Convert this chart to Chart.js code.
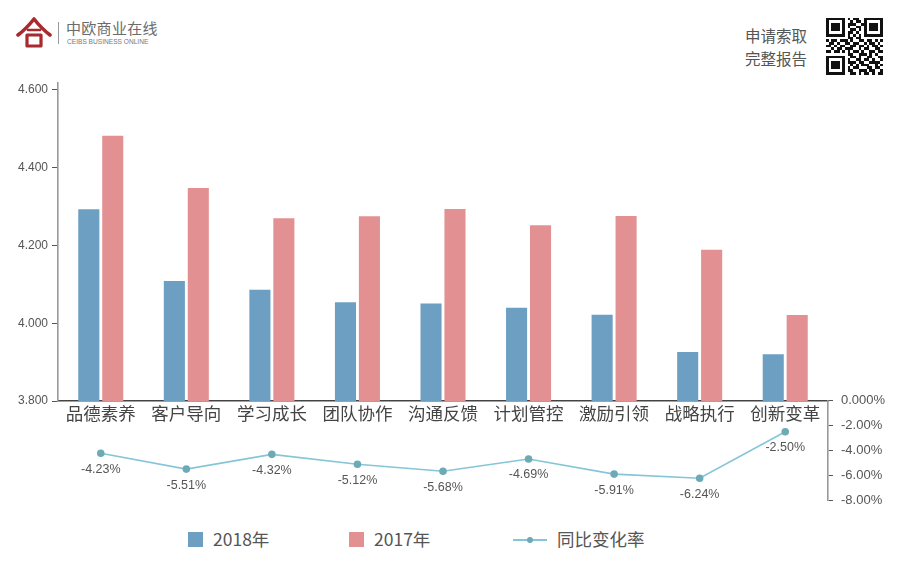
<!DOCTYPE html>
<html>
<head>
<meta charset="utf-8">
<script src="https://cdn.jsdelivr.net/npm/chart.js@4"></script>
<style>
  html, body { margin:0; padding:0; background:#fff; }
  body { width:901px; height:569px; position:relative; overflow:hidden; font-family:"Noto Sans CJK SC","Noto Sans",sans-serif; }
  canvas { position:absolute; left:0; }
  .abs { position:absolute; white-space:nowrap; }
</style>
</head>
<body>
<script>
const categories = ['品德素养','客户导向','学习成长','团队协作','沟通反馈','计划管控','激励引领','战略执行','创新变革'];
const series2018 = [4.293, 4.109, 4.086, 4.054, 4.051, 4.040, 4.022, 3.926, 3.920];
const series2017 = [4.482, 4.348, 4.270, 4.275, 4.294, 4.252, 4.276, 4.189, 4.021];
const changeRate = [-4.23, -5.51, -4.32, -5.12, -5.68, -4.69, -5.91, -6.24, -2.50];
const changeRateLabels = ['-4.23%','-5.51%','-4.32%','-5.12%','-5.68%','-4.69%','-5.91%','-6.24%','-2.50%'];
const seriesNames = ['2018年','2017年','同比变化率'];
const leftTickValues = [3.8, 4.0, 4.2, 4.4, 4.6];
const leftTickLabels = ['3.800','4.000','4.200','4.400','4.600'];
const rightTickValues = [0, -2, -4, -6, -8];
const rightTickLabels = ['0.000%','-2.00%','-4.00%','-6.00%','-8.00%'];
</script>

<!-- header logo -->
<svg class="abs" style="left:16px;top:16px" width="36" height="33" viewBox="0 0 36 33">
  <path d="M2 19 Q10 13 18 3 Q26 13 34 19" fill="none" stroke="#a8292e" stroke-width="3.6" stroke-linecap="round" stroke-linejoin="round"/>
  <path d="M12 14 L24 14" stroke="#a8292e" stroke-width="2.6" stroke-linecap="round"/>
  <path d="M11 19 L11 30 L25 30 L25 19 Z" fill="none" stroke="#a8292e" stroke-width="3.2" stroke-linejoin="round"/>
</svg>
<div class="abs" style="left:58px;top:22px;width:1px;height:22px;background:#999"></div>
<div class="abs" style="left:66px;top:19px;font-size:15px;line-height:18px;color:#6b6b6b;letter-spacing:0.3px">中欧商业在线</div>
<div class="abs" style="left:67px;top:38px;font-family:'Liberation Sans',sans-serif;font-size:6.6px;line-height:7px;color:#777">CEIBS BUSINESS ONLINE</div>

<div class="abs" style="left:745px;top:24px;font-size:15.5px;color:#555;line-height:23px">申请索取<br>完整报告</div>
<svg id="qr" class="abs" style="left:826px;top:17px" width="57" height="58" viewBox="0 0 21 21" shape-rendering="crispEdges"></svg>

<canvas id="top" width="901" height="430" style="top:0;width:901px;height:430px"></canvas>
<canvas id="bottom" width="901" height="135" style="top:385px;width:901px;height:135px"></canvas>
<div id="legend"></div>

<script>
// QR-like decoration
(function(){
  const rows = [
    "111111101011001111111","100000100101101000001","101110101110011011101","101110101001101011101",
    "101110100110101011101","100000101101001000001","111111101010101111111","000000001101100000000",
    "101101110100110110101","011010011011001011010","110101100110110101101","001011011100101100110",
    "110110101011010011011","000000001100111010100","111111100110100110011","100000101001101101001",
    "101110101110110011110","101110100101011100101","101110101011000110110","100000101100111011001",
    "111111100110101101011"];
  let s = '';
  rows.forEach((r,y)=>{ for(let x=0;x<r.length;x++){ if(r[x]==='1') s += `<rect x="${x}" y="${y}" width="1" height="1" fill="#111"/>`; } });
  document.getElementById('qr').innerHTML = s;
})();

const BLUE = '#6d9fc2', PINK = '#e39093', LINE = '#84c6d7', POINT = '#6eaab6';
const numFont = "'Liberation Sans','Noto Sans',sans-serif";
const cjkFont = "'Noto Sans CJK SC','Noto Sans',sans-serif";

new Chart(document.getElementById('top'), {
  type: 'bar',
  data: {
    labels: categories,
    datasets: [
      { label: seriesNames[0], data: series2018, backgroundColor: BLUE, categoryPercentage: 0.56, barPercentage: 0.88 },
      { label: seriesNames[1], data: series2017, backgroundColor: PINK, categoryPercentage: 0.56, barPercentage: 0.88 }
    ]
  },
  options: {
    responsive: false, animation: false, devicePixelRatio: 1,
    layout: { padding: { left: 0, right: 73, top: 83, bottom: 0 } },
    plugins: { legend: { display: false }, tooltip: { enabled: false } },
    scales: {
      x: {
        offset: true,
        grid: { display: false, drawTicks: false },
        border: { display: true, color: '#444', width: 1.5 },
        ticks: { color: '#444', font: { family: cjkFont, size: 17.5 }, padding: 2, maxRotation: 0, autoSkip: false },
        afterFit: s => { s.height = 29; }
      },
      y: {
        min: 3.8, max: 4.618,
        afterBuildTicks: s => { s.ticks = leftTickValues.map(v => ({ value: v })); },
        ticks: { color: '#555', font: { family: numFont, size: 12 }, padding: 4,
                 callback: v => leftTickLabels[leftTickValues.indexOf(v)] },
        grid: { drawOnChartArea: false, drawTicks: true, tickLength: 6, color: '#555', tickColor: '#555' },
        border: { display: true, color: '#999', width: 1.6 },
        afterFit: s => { s.width = 58; }
      }
    }
  }
});

const pointLabelPlugin = {
  id: 'pointLabels',
  afterDatasetsDraw(chart) {
    const ctx = chart.ctx;
    const meta = chart.getDatasetMeta(0);
    ctx.save();
    ctx.font = `12.5px ${numFont}`;
    ctx.fillStyle = '#555';
    ctx.textAlign = 'center';
    ctx.textBaseline = 'middle';
    meta.data.forEach((pt, i) => {
      ctx.fillText(changeRateLabels[i], pt.x, pt.y + 16);
    });
    ctx.restore();
  }
};

new Chart(document.getElementById('bottom'), {
  type: 'line',
  data: {
    labels: categories,
    datasets: [
      { label: seriesNames[2], data: changeRate, xAxisID: 'x', yAxisID: 'yRate', borderColor: LINE, borderWidth: 1.6,
        pointRadius: 3, pointBackgroundColor: POINT, pointBorderColor: POINT, tension: 0, clip: false }
    ]
  },
  options: {
    responsive: false, animation: false, devicePixelRatio: 1,
    layout: { padding: { left: 58, right: 0, top: 15, bottom: 20 } },
    plugins: { legend: { display: false }, tooltip: { enabled: false } },
    scales: {
      x: { type: 'category', display: false, offset: true },
      yRate: {
        type: 'linear', axis: 'y',
        position: 'right', min: -8, max: 0,
        afterBuildTicks: s => { s.ticks = rightTickValues.map(v => ({ value: v })); },
        ticks: { color: '#555', font: { family: numFont, size: 13 }, padding: 8,
                 callback: v => rightTickLabels[rightTickValues.indexOf(v)] },
        grid: { drawOnChartArea: false, drawTicks: true, tickLength: 5, color: '#555', tickColor: '#555' },
        border: { display: true, color: '#999', width: 1.6 },
        afterFit: s => { s.width = 73; }
      }
    }
  },
  plugins: [pointLabelPlugin]
});

// legend
(function(){
  const lg = document.getElementById('legend');
  const items = [
    { x: 188, type: 'box', color: BLUE, text: seriesNames[0] },
    { x: 349, type: 'box', color: PINK, text: seriesNames[1] },
    { x: 513, type: 'line', color: LINE, text: seriesNames[2] }
  ];
  let html = '';
  items.forEach(it => {
    if (it.type === 'box') {
      html += `<div class="abs" style="left:${it.x}px;top:532px;width:15px;height:15px;background:${it.color}"></div>`;
      html += `<div class="abs" style="left:${it.x+25}px;top:527px;font-size:17.5px;color:#555;line-height:24px;font-family:${cjkFont}">${it.text}</div>`;
    } else {
      html += `<div class="abs" style="left:${it.x}px;top:539px;width:34px;height:2px;background:${it.color}"></div>`;
      html += `<div class="abs" style="left:${it.x+14}px;top:537px;width:6px;height:6px;border-radius:3px;background:${POINT}"></div>`;
      html += `<div class="abs" style="left:${it.x+44}px;top:527px;font-size:17.5px;color:#555;line-height:24px;font-family:${cjkFont}">${it.text}</div>`;
    }
  });
  lg.innerHTML = html;
})();
</script>
</body>
</html>
